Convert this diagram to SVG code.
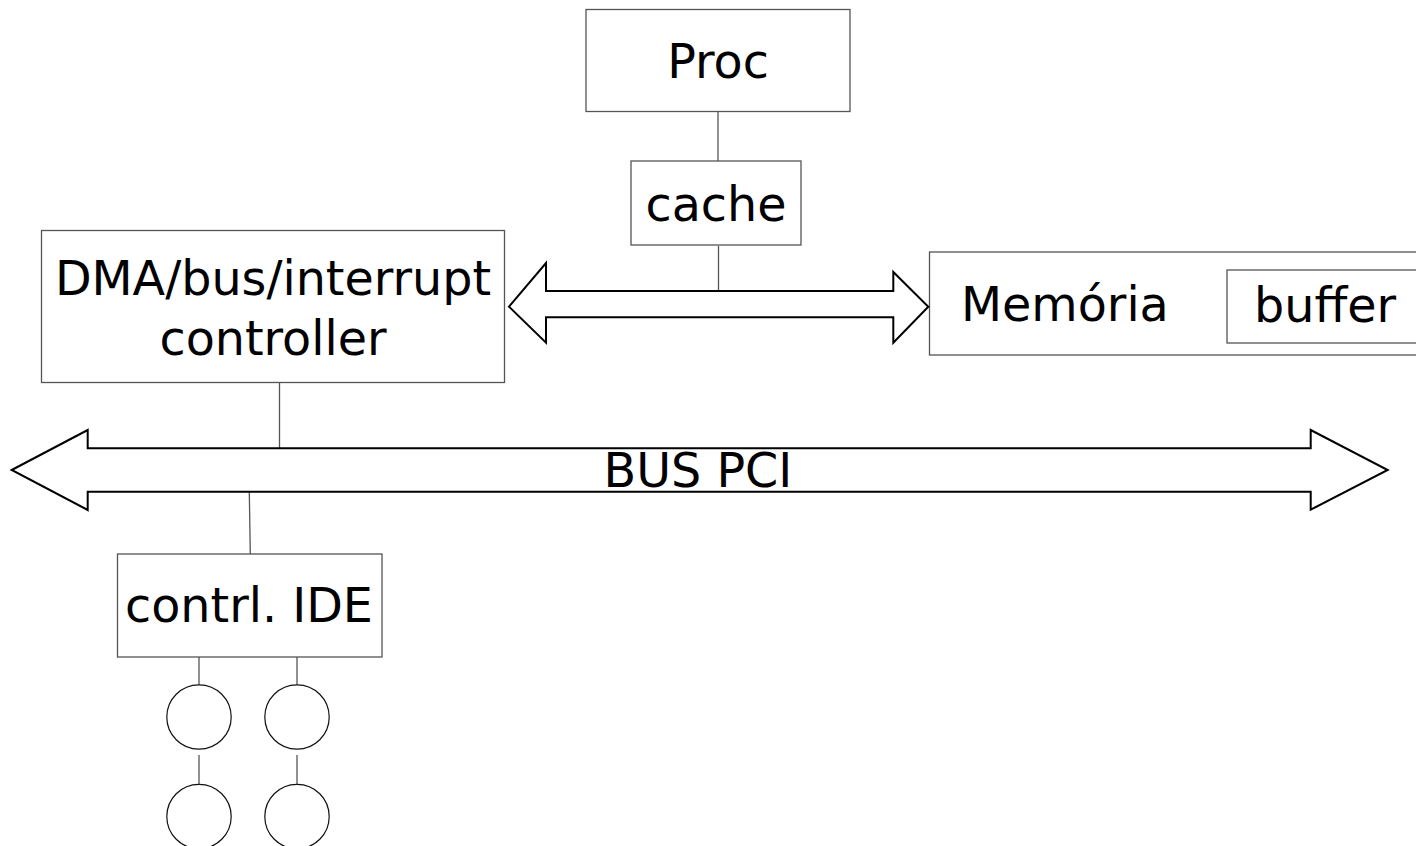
<svg xmlns="http://www.w3.org/2000/svg" width="1416" height="846" viewBox="0 0 1416 846">
<style>
.box{fill:#fff;stroke:#555;stroke-width:1.3}
.lbl{font-family:"DejaVu Sans",sans-serif;font-size:47.6px;fill:#000}
.arrow{fill:#fff;stroke:#000;stroke-width:2;stroke-linejoin:miter}
.con{stroke:#555;stroke-width:1.3;fill:none}
.disk{fill:#fff;stroke:#111;stroke-width:1.2}
</style>
<rect width="1416" height="846" fill="#fff"/>
<g id="connectors">
<line class="con" x1="718" y1="111" x2="718" y2="161"/>
<line class="con" x1="718.5" y1="246" x2="718.5" y2="291"/>
<line class="con" x1="279.5" y1="382" x2="279.5" y2="449"/>
<line class="con" x1="249.3" y1="492" x2="250.3" y2="554"/>
<line class="con" x1="199" y1="657" x2="199" y2="685"/>
<line class="con" x1="297" y1="657" x2="297" y2="685"/>
<line class="con" x1="199" y1="755" x2="199" y2="784"/>
<line class="con" x1="297" y1="755" x2="297" y2="784"/>
</g>
<g id="proc">
<rect class="box" x="586" y="9.5" width="264" height="102"/>
<text class="lbl" x="718" y="78" text-anchor="middle">Proc</text>
</g>
<g id="cache">
<rect class="box" x="631" y="161" width="170" height="84"/>
<text class="lbl" x="716" y="221" text-anchor="middle">cache</text>
</g>
<g id="dma">
<rect class="box" x="41.5" y="230.5" width="463" height="152"/>
<text class="lbl" x="273" y="295" text-anchor="middle">DMA/bus/interrupt</text>
<text class="lbl" x="273" y="355" text-anchor="middle">controller</text>
</g>
<g id="memory">
<rect class="box" x="929.5" y="252" width="500" height="103"/>
<text class="lbl" x="961" y="321">Memória</text>
<g id="buffer">
<rect class="box" x="1227" y="270" width="200" height="73"/>
<text class="lbl" x="1254" y="322">buffer</text>
</g>
</g>
<g id="sysbus">
<path class="arrow" d="M509,306.7 L546,263 L546,291 L893.3,291 L893.3,272 L928.3,306.7 L893.3,342.7 L893.3,317.3 L546,317.3 L546,342.7 Z"/>
</g>
<g id="pcibus">
<path class="arrow" d="M11.7,470 L87.7,430 L87.7,448.3 L1310.7,448.3 L1310.7,430 L1387.7,470 L1310.7,509.7 L1310.7,491.7 L87.7,491.7 L87.7,510 Z"/>
<text class="lbl" x="698" y="487" text-anchor="middle">BUS PCI</text>
</g>
<g id="ide">
<rect class="box" x="117.5" y="554" width="264.5" height="103"/>
<text class="lbl" x="249" y="622" text-anchor="middle">contrl. IDE</text>
</g>
<g id="disk1"><circle class="disk" cx="199" cy="717" r="32.2"/></g>
<g id="disk2"><circle class="disk" cx="297" cy="717" r="32.2"/></g>
<g id="disk3"><circle class="disk" cx="199" cy="816.5" r="32.2"/></g>
<g id="disk4"><circle class="disk" cx="297" cy="816.5" r="32.2"/></g>
</svg>
